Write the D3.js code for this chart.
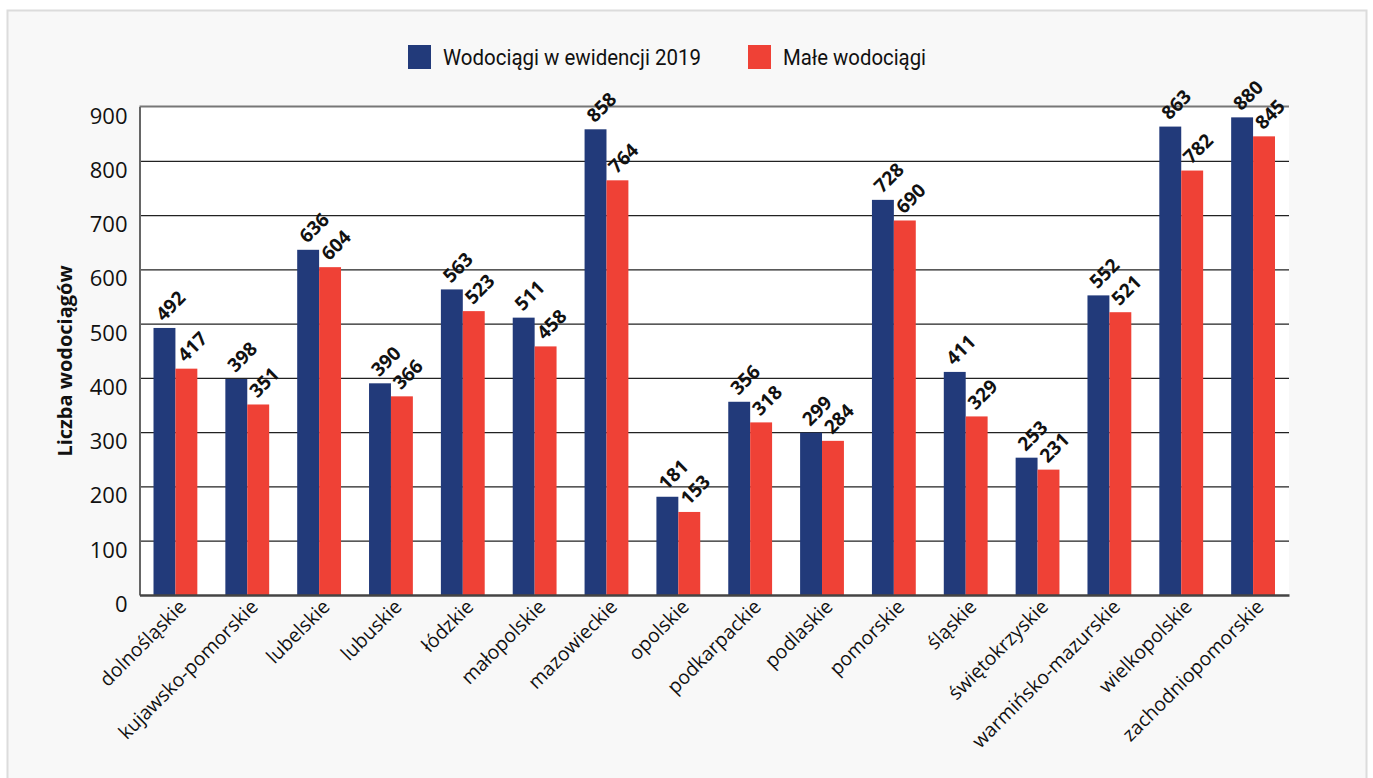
<!DOCTYPE html>
<html><head><meta charset="utf-8">
<script src="https://cdn.jsdelivr.net/npm/d3@7"></script>
<style>
html,body{margin:0;padding:0;background:#fff;}
svg{display:block;}
</style></head>
<body>
<svg id="chart" width="1373" height="778"></svg>
<script>
const categories = ["dolnośląskie","kujawsko-pomorskie","lubelskie","lubuskie","łódzkie","małopolskie","mazowieckie","opolskie","podkarpackie","podlaskie","pomorskie","śląskie","świętokrzyskie","warmińsko-mazurskie","wielkopolskie","zachodniopomorskie"];
const seriesNames = ["Wodociągi w ewidencji 2019","Małe wodociągi"];
const ewidencja = [492,398,636,390,563,511,858,181,356,299,728,411,253,552,863,880];
const male = [417,351,604,366,523,458,764,153,318,284,690,329,231,521,782,845];
const yTicks = [0,100,200,300,400,500,600,700,800,900];
const yTitle = "Liczba wodociągów";
const colors = ["#223a7a","#ef4136"];

const svg = d3.select("#chart");
const m = {left:139.5, right:1289, top:106.5, bottom:595};

// outer frame
svg.append("rect").attr("x",7.5).attr("y",10.5).attr("width",1359).attr("height",800)
  .attr("fill","#f8f8f8").attr("stroke","#dcdcdc").attr("stroke-width",2);

const x = d3.scaleBand().domain(categories).range([m.left, m.right]).paddingInner(0.39).paddingOuter(0.195);
const xs = d3.scaleBand().domain([0,1]).range([0, x.bandwidth()]);
const y = d3.scaleLinear().domain([0,900]).range([m.bottom, m.top]);

// plot background
svg.append("rect").attr("x",m.left).attr("y",m.top).attr("width",m.right-m.left).attr("height",m.bottom-m.top).attr("fill","#fff");

// gridlines
const grid = svg.append("g").attr("transform",`translate(${m.left},0)`)
  .call(d3.axisLeft(y).tickValues(yTicks.filter(d=>d>0 && d<900)).tickSize(-(m.right-m.left)).tickFormat(""));
grid.select(".domain").remove();
grid.selectAll(".tick line").attr("stroke","#222").attr("stroke-width",1.3);

// top line
svg.append("line").attr("x1",m.left).attr("x2",m.right).attr("y1",y(900)).attr("y2",y(900)).attr("stroke","#777").attr("stroke-width",2);

// bars
const data = categories.map((c,i)=>({c, vals:[ewidencja[i], male[i]]}));
const groups = svg.append("g").selectAll("g").data(data).join("g")
  .attr("transform",d=>`translate(${x(d.c)},0)`);
groups.selectAll("rect").data(d=>d.vals.map((v,k)=>({v,k}))).join("rect")
  .attr("x",d=>xs(d.k)).attr("width",xs.bandwidth())
  .attr("y",d=>y(d.v)).attr("height",d=>y(0)-y(d.v))
  .attr("fill",d=>colors[d.k]);

// value labels
groups.selectAll("text").data(d=>d.vals.map((v,k)=>({v,k}))).join("text")
  .attr("transform",d=>`translate(${xs(d.k)+xs.bandwidth()/2+6},${y(d.v)-22}) rotate(-45)`)
  .attr("text-anchor","middle").attr("dy","0.35em")
  .attr("font-family","'Open Sans', sans-serif").attr("font-weight",700).attr("font-size",19)
  .attr("fill","#111").text(d=>d.v);

// left axis
const yAxis = svg.append("g").attr("transform",`translate(${m.left},0)`)
  .call(d3.axisLeft(y).tickValues(yTicks).tickSize(0).tickPadding(12));
yAxis.select(".domain").attr("stroke","#666").attr("stroke-width",2);
yAxis.selectAll("text").attr("font-family","'Open Sans', sans-serif").attr("font-size",22).attr("fill","#111")
  .attr("dy","0.75em");

// bottom axis
const xAxis = svg.append("g").attr("transform",`translate(0,${m.bottom})`)
  .call(d3.axisBottom(x).tickSize(0).tickPadding(0));
xAxis.select(".domain").attr("stroke","#444").attr("stroke-width",2.5);
xAxis.selectAll("text")
  .attr("font-family","'Open Sans', sans-serif").attr("font-size",19.5).attr("fill","#111")
  .attr("text-anchor","end").attr("dy",0).attr("y",0)
  .attr("transform","translate(12,13) rotate(-45)");

// y title
svg.append("text").attr("transform",`translate(72,361) rotate(-90)`)
  .attr("text-anchor","middle").attr("font-family","'Open Sans', sans-serif").attr("font-weight",700)
  .attr("font-size",20).attr("fill","#111").text(yTitle);

// legend
const legX = [408, 748];
const legLen = [258, 143];
seriesNames.forEach((s,i)=>{
  svg.append("rect").attr("x",legX[i]).attr("y",45).attr("width",23).attr("height",24).attr("fill",colors[i]);
  svg.append("text").attr("x",legX[i]+35).attr("y",65).attr("font-family","Roboto, sans-serif")
    .attr("font-size",22.5).attr("fill","#111")
    .attr("textLength",legLen[i]).attr("lengthAdjust","spacingAndGlyphs").text(s);
});
</script>
</body></html>
